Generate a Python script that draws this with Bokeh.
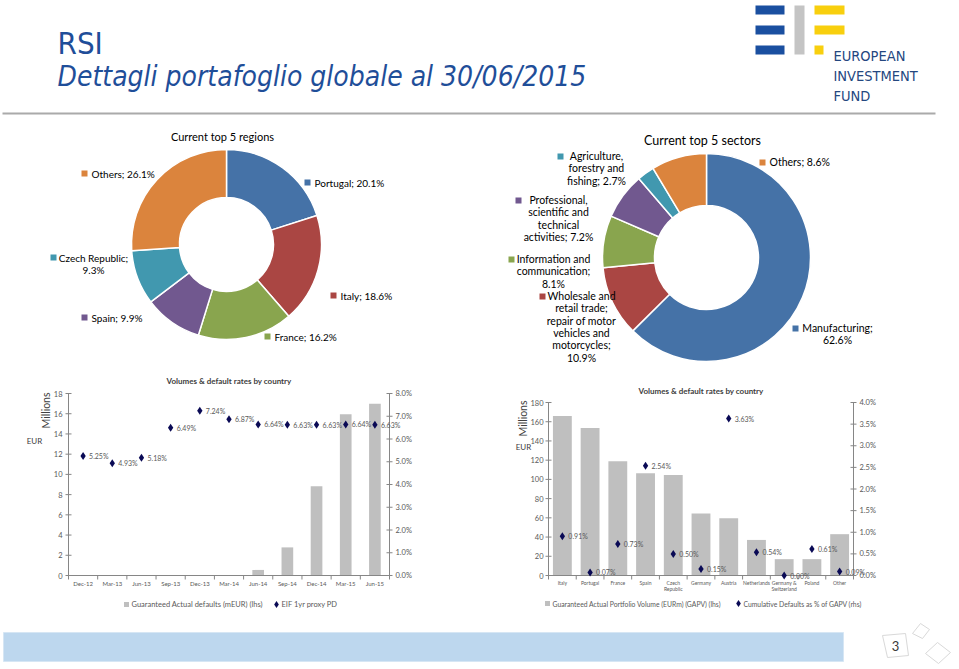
import math
from bokeh.plotting import figure
from bokeh.layouts import column, row
from bokeh.models import Range1d, ColumnDataSource
from bokeh.core.properties import value
from bokeh.embed import file_html
from bokeh.resources import INLINE

# ---------------- data ----------------
region_names = ["Portugal", "Italy", "France", "Spain", "Czech Republic", "Others"]
region_shares = [20.1, 18.6, 16.2, 9.9, 9.3, 26.1]

sector_names = ["Manufacturing",
                "Wholesale and\nretail trade;\nrepair of motor\nvehicles and\nmotorcycles",
                "Information and\ncommunication",
                "Professional,\nscientific and\ntechnical\nactivities",
                "Agriculture,\nforestry and\nfishing",
                "Others"]
sector_shares = [62.6, 10.9, 8.1, 7.2, 2.7, 8.6]

quarters = ["Dec-12", "Mar-13", "Jun-13", "Sep-13", "Dec-13", "Mar-14",
            "Jun-14", "Sep-14", "Dec-14", "Mar-15", "Jun-15"]
actual_defaults_meur = [0, 0, 0, 0, 0, 0, 0.55, 2.78, 8.82, 15.95, 16.98]
proxy_pd_pct = [5.25, 4.93, 5.18, 6.49, 7.24, 6.87, 6.64, 6.63, 6.63, 6.64, 6.63]

countries = ["Italy", "Portugal", "France", "Spain", "Czech\nRepublic", "Germany",
             "Austria", "Netherlands", "Germany &\nSwitzerland", "Poland", "Other"]
gapv_meur = [166, 153.5, 119, 106.5, 104.5, 64.5, 59.5, 37, 17, 17, 43]
cum_default_pct = [0.91, 0.07, 0.73, 2.54, 0.50, 0.15, 3.63, 0.54, 0.00, 0.61, 0.09]

left_ticks_1 = list(range(0, 19, 2))
right_ticks_1 = [0, 1, 2, 3, 4, 5, 6, 7, 8]
left_ticks_2 = list(range(0, 181, 20))
right_ticks_2 = [0, 0.5, 1, 1.5, 2, 2.5, 3, 3.5, 4]

# ---------------- style ----------------
PALETTE = ["#4572A7", "#AA4643", "#89A54E", "#71588F", "#4198AF", "#DB843D"]
BLUE_TXT = "#1F4E99"
FONT = "Lato"
NARROW = "'Liberation Sans Narrow', 'DejaVu Sans Condensed', sans-serif"
BAR_GREY = "#BFBFBF"
AX_GREY = "#868686"
TXT = "#404040"
LBL = "#595959"
NAVY = "#0A0A55"


def blank(width, height, xr, yr):
    p = figure(width=width, height=height, x_range=xr, y_range=yr,
               output_backend="svg", toolbar_location=None,
               x_axis_type=None, y_axis_type=None, min_border=0)
    p.outline_line_color = None
    p.grid.visible = False
    return p


# ---------------- header ----------------
hdr = blank(959, 115, Range1d(0, 959), Range1d(115, 0))
hdr.text(x=[57], y=[42], text=["RSI"], text_font=value(NARROW), text_font_size="31px",
         text_color=BLUE_TXT, text_baseline="alphabetic")
hdr.text(x=[57], y=[76], text=["Dettagli portafoglio globale al 30/06/2015"],
         text_font=value(NARROW), text_font_style="italic", text_font_size="28px",
         text_color=BLUE_TXT, text_baseline="alphabetic")
# logo
hdr.quad(left=[755, 755, 755], right=[784, 784, 784], top=[5, 25, 45], bottom=[14, 34, 54],
         color="#1A4FA0", line_color=None)
hdr.quad(left=[794], right=[804], top=[5], bottom=[54], color="#C4C4C4", line_color=None)
hdr.quad(left=[814, 814, 814], right=[844, 844, 823], top=[5, 25, 45], bottom=[14, 34, 54],
         color="#F8CF0E", line_color=None)
hdr.text(x=[833, 833, 833], y=[55, 75, 95], text=["EUROPEAN", "INVESTMENT", "FUND"],
         text_font=value(NARROW), text_font_size="14.5px", text_color="#24477F",
         text_baseline="alphabetic")
hdr.segment(x0=[2], y0=[113], x1=[935], y1=[113], line_color="#AAAAAA", line_width=2)


# ---------------- donuts ----------------
def donut(p, shares, r_in, r_out):
    total = sum(shares)
    cum = 0.0
    starts, ends = [], []
    for s in shares:
        starts.append(math.pi / 2 - 2 * math.pi * cum / total)
        cum += s
        ends.append(math.pi / 2 - 2 * math.pi * cum / total)
    src = ColumnDataSource(dict(start=starts, end=ends, color=PALETTE[:len(shares)]))
    p.annular_wedge(x=0, y=0, inner_radius=r_in, outer_radius=r_out,
                    start_angle="start", end_angle="end", direction="clock",
                    fill_color="color", line_color="white", line_width=1.5, source=src)


# regions donut: centre at page (226, 244)
d1 = blank(480, 255, Range1d(-226, 254), Range1d(-126, 129))
donut(d1, region_shares, 47, 95)
d1.text(x=[-4], y=[108], text=["Current top 5 regions"], text_font=value(FONT),
        text_font_size="11px", text_color="#000000", text_align="center",
        text_baseline="middle")
reg_seps = [" ", " ", " ", " ", "\n", " "]
reg_labels = [f"{n};{s}{v:.1f}%" for n, s, v in zip(region_names, reg_seps, region_shares)]
reg_marker_x = [81, 107, 41, -142, -173, -142]
reg_marker_y = [62, -51, -92, -73, -13, 71]
reg_text_x = [88, 114, 48, -135, -133, -135]
reg_align = ["left", "left", "left", "left", "center", "left"]
d1.scatter(x=reg_marker_x, y=reg_marker_y, marker="square", size=6,
           color=PALETTE, line_color=None)
d1.text(x=reg_text_x, y=[yy + 6 for yy in reg_marker_y], text=reg_labels,
        text_align=reg_align, text_baseline="top", text_font=value(FONT),
        text_font_size="10px", text_color="#000000", text_line_height=1.0)

# sectors donut: centre at page (706, 257)
d2 = blank(479, 255, Range1d(-226, 253), Range1d(-113, 142))
donut(d2, sector_shares, 52, 104)
d2.text(x=[-4], y=[117], text=["Current top 5 sectors"], text_font=value(FONT),
        text_font_size="12.5px", text_color="#000000", text_align="center",
        text_baseline="middle")
sec_seps = ["\n", "\n", "\n", " ", " ", " "]
sec_labels = [f"{n};{s}{v:.1f}%" for n, s, v in zip(sector_names, sec_seps, sector_shares)]
sec_marker_x = [89, -164, -195, -188, -146, 56]
sec_marker_y = [-71, -39, -2, 57, 101, 95]
sec_text_x = [131, -125, -153, -148, -110, 63]
sec_align = ["center", "center", "center", "center", "center", "left"]
d2.scatter(x=sec_marker_x, y=sec_marker_y, marker="square", size=6,
           color=PALETTE, line_color=None)
d2.text(x=sec_text_x, y=[yy + 6.5 for yy in sec_marker_y], text=sec_labels,
        text_align=sec_align, text_baseline="top", text_font=value(FONT),
        text_font_size="10.5px", text_color="#000000", text_line_height=1.03)


# ---------------- bar + marker charts ----------------
# (frame box and text anchors are given in pixels inside each 250-px-high panel;
#  the figure ranges are derived so that the frame maps the category and value scales)
def combo(W, cats, bars, pct, lticks, rticks, fbox, bar_w, xfont, title_y,
          mill_xy, eur_xy, leg_y, leg_items, leg_font, tick_gap):
    H = 250
    fl, fr, ft, fb = fbox
    n = len(cats)
    lmax, rmax = lticks[-1], rticks[-1]
    kx = n / (fr - fl)
    ky = rmax / (fb - ft)
    kv = lmax / (fb - ft)
    p = blank(W, H, Range1d(0.5 - fl * kx, 0.5 + (W - fl) * kx),
              Range1d(-(H - fb) * ky, rmax + ft * ky))
    p.extra_y_ranges = {"vol": Range1d(-(H - fb) * kv, lmax + ft * kv)}

    def X(px):
        return 0.5 + (px - fl) * kx

    def Y(py):
        return (fb - py) * ky

    xs = [i + 1 for i in range(n)]
    txt = dict(text_font=value(FONT))

    # bars (left scale)
    p.vbar(x=xs, top=bars, width=bar_w, y_range_name="vol", color=BAR_GREY, line_color=None)

    # axes
    p.segment(x0=[0.5, n + 0.5, 0.5], y0=[0, 0, 0], x1=[0.5, n + 0.5, n + 0.5],
              y1=[rmax, rmax, 0], line_color=AX_GREY, line_width=1)
    p.segment(x0=[X(fl - 3)] * len(lticks), x1=[X(fl + 3)] * len(lticks),
              y0=lticks, y1=lticks, y_range_name="vol", line_color=AX_GREY, line_width=1)
    p.segment(x0=[X(fr - 3)] * len(rticks), x1=[X(fr + 3)] * len(rticks),
              y0=rticks, y1=rticks, line_color=AX_GREY, line_width=1)
    bnd = [i + 0.5 for i in range(n + 1)]
    p.segment(x0=bnd, x1=bnd, y0=[0] * len(bnd), y1=[Y(fb + 4)] * len(bnd),
              line_color=AX_GREY, line_width=1)
    p.text(x=[X(fl - tick_gap)] * len(lticks), y=lticks, text=[str(t) for t in lticks],
           y_range_name="vol", text_align="right", text_baseline="middle",
           text_font_size="7.5px", text_color=LBL, **txt)
    p.text(x=[X(fr + 6)] * len(rticks), y=rticks, text=[f"{t:.1f}%" for t in rticks],
           text_align="left", text_baseline="middle", text_font_size="7.5px",
           text_color=LBL, **txt)
    p.text(x=xs, y=[Y(fb + 4)] * n, text=cats, text_align="center", text_baseline="top",
           text_font_size=xfont, text_color=LBL, text_line_height=1.0, **txt)

    # markers (right scale) + data labels
    p.scatter(x=xs, y=pct, marker="diamond", size=8, color=NAVY, line_color=None)
    p.text(x=[v + 6 * kx for v in xs], y=pct, text=[f"{v:.2f}%" for v in pct],
           text_align="left", text_baseline="middle", text_font_size="7px",
           text_color=LBL, **txt)

    # title, axis captions
    p.text(x=[X((fl + fr) / 2)], y=[Y(title_y)], text=["Volumes & default rates by country"],
           text_align="center", text_baseline="middle", text_font_size="8px",
           text_font_style="bold", text_color=TXT, **txt)
    p.text(x=[X(mill_xy[0])], y=[Y(mill_xy[1])], text=["Millions"], angle=math.pi / 2,
           text_align="center", text_baseline="middle", text_font_size="10.5px",
           text_color=TXT, **txt)
    p.text(x=[X(eur_xy[0])], y=[Y(eur_xy[1])], text=["EUR"], text_align="center",
           text_baseline="middle", text_font_size="8px", text_color=TXT, **txt)

    # legend
    (sq_x, bar_label), (dm_x, pct_label) = leg_items
    p.scatter(x=[X(sq_x)], y=[Y(leg_y)], marker="square", size=5, color=BAR_GREY,
              line_color=None)
    p.scatter(x=[X(dm_x)], y=[Y(leg_y)], marker="diamond", size=7, color=NAVY,
              line_color=None)
    p.text(x=[X(sq_x + 5), X(dm_x + 5)], y=[Y(leg_y)] * 2, text=[bar_label, pct_label],
           text_align="left", text_baseline="middle", text_font_size=leg_font,
           text_color=LBL, **txt)
    return p


b1 = combo(480, quarters, actual_defaults_meur, proxy_pd_pct, left_ticks_1, right_ticks_1,
           (68, 389, 23, 205), 0.4, "6px", 10, (45, 40), (34, 70), 234,
           [(126, "Guaranteed Actual defaults (mEUR) (lhs)"), (276, "EIF 1yr proxy PD")],
           "7.5px", 6)
b2 = combo(479, countries, gapv_meur, cum_default_pct, left_ticks_2, right_ticks_2,
           (68, 373, 32, 205), 0.68, "5px", 20, (42, 48), (43, 76), 233,
           [(67, "Guaranteed Actual Portfolio Volume (EURm) (GAPV) (lhs)"),
            (258, "Cumulative Defaults as % of GAPV (rhs)")],
           "6.8px", 5)

# ---------------- footer ----------------
ftr = blank(959, 49, Range1d(0, 959), Range1d(49, 0))
ftr.quad(left=[3], right=[843], top=[12], bottom=[41], color="#BDD7EE", line_color="#D6E6F4")
ftr.patches(xs=[[882, 905, 908, 887], [912, 920, 929, 922], [925, 937, 950, 938]],
            ys=[[15, 13, 35, 37], [13, 3, 9, 18], [33, 22, 32, 43]],
            fill_color=None, line_color="#D9D9D9", line_width=1)
ftr.text(x=[895], y=[25], text=["3"], text_font=value(FONT), text_font_size="13px",
         text_color="#3A3A3A", text_align="center", text_baseline="middle")

layout = column(hdr, row(d1, d2), row(b1, b2), ftr)
open("out.html", "w").write(file_html(layout, INLINE))
